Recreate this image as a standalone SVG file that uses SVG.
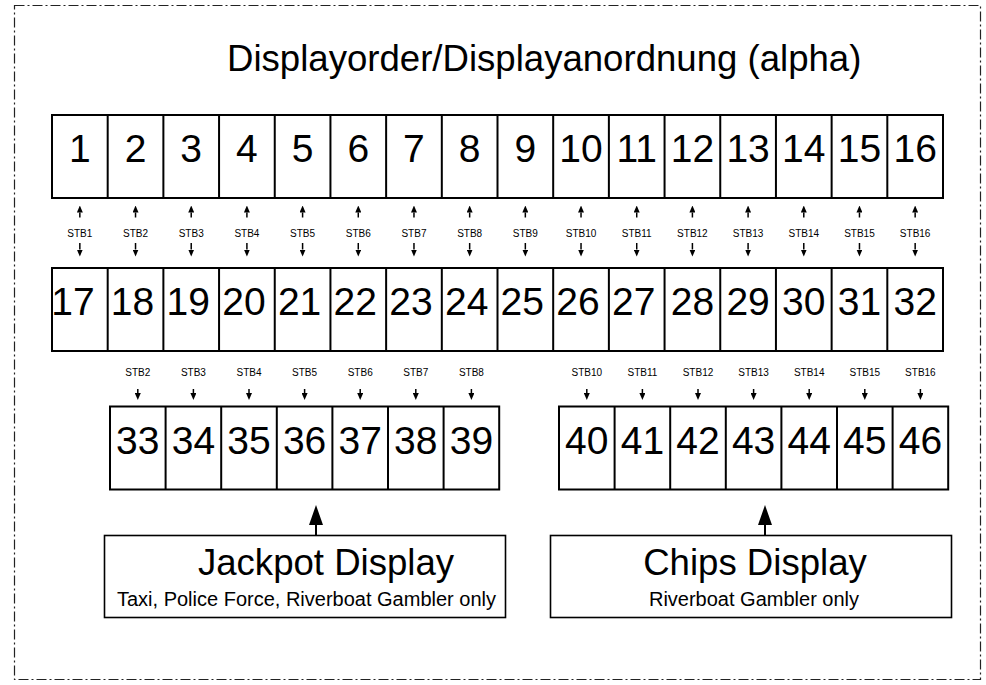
<svg xmlns="http://www.w3.org/2000/svg" width="986" height="685" viewBox="0 0 986 685">
<defs>
<style>
.frame{fill:none;stroke:#222;stroke-width:1.2;stroke-dasharray:10 3 2 3}
.box{fill:#fff;stroke:#000;stroke-width:2}
.div{stroke:#000;stroke-width:2}
.dbox{fill:#fff;stroke:#000;stroke-width:1.6}
.num{font-family:"Liberation Sans",Arial,sans-serif;font-size:39px;text-anchor:middle;fill:#000}
.stb{font-family:"Liberation Sans",Arial,sans-serif;font-size:10px;text-anchor:middle;fill:#000}
.title{font-family:"Liberation Sans",Arial,sans-serif;font-size:36.6px;fill:#000}
.dt{font-family:"Liberation Sans",Arial,sans-serif;font-size:36.6px;text-anchor:middle;fill:#000}
.ds{font-family:"Liberation Sans",Arial,sans-serif;font-size:20px;text-anchor:middle;fill:#000}
.sa{stroke:#000;stroke-width:1.5;fill:none;marker-end:url(#sh)}
.ba{stroke:#000;stroke-width:2;fill:none;marker-end:url(#bh)}
</style>
<marker id="sh" viewBox="0 0 7 6" refX="0" refY="3" markerWidth="7" markerHeight="6" markerUnits="userSpaceOnUse" orient="auto">
<path d="M0,0 L7,3 L0,6 z" fill="#000"/>
</marker>
<marker id="bh" viewBox="0 0 20 14" refX="0" refY="7" markerWidth="20" markerHeight="14" markerUnits="userSpaceOnUse" orient="auto">
<path d="M0,0 L20,7 L0,14 z" fill="#000"/>
</marker>
</defs>
<rect width="986" height="685" fill="#fff"/>
<rect class="frame" x="14.5" y="5.5" width="966" height="674"/>
<text class="title" x="227" y="71">Displayorder/Displayanordnung (alpha)</text>

<g id="row1">
<rect class="box" x="52" y="115" width="891" height="83"/>
<path class="div" d="M107.69,115V198M163.38,115V198M219.06,115V198M274.75,115V198M330.44,115V198M386.13,115V198M441.81,115V198M497.5,115V198M553.19,115V198M608.88,115V198M664.56,115V198M720.25,115V198M775.94,115V198M831.63,115V198M887.31,115V198"/>
<text class="num" x="79.84" y="162.3">1</text>
<text class="num" x="135.53" y="162.3">2</text>
<text class="num" x="191.22" y="162.3">3</text>
<text class="num" x="246.91" y="162.3">4</text>
<text class="num" x="302.59" y="162.3">5</text>
<text class="num" x="358.28" y="162.3">6</text>
<text class="num" x="413.97" y="162.3">7</text>
<text class="num" x="469.66" y="162.3">8</text>
<text class="num" x="525.34" y="162.3">9</text>
<text class="num" x="581.03" y="162.3">10</text>
<text class="num" x="636.72" y="162.3">11</text>
<text class="num" x="692.41" y="162.3">12</text>
<text class="num" x="748.09" y="162.3">13</text>
<text class="num" x="803.78" y="162.3">14</text>
<text class="num" x="859.47" y="162.3">15</text>
<text class="num" x="915.16" y="162.3">16</text>
</g>

<g id="row2">
<rect class="box" x="52" y="268" width="891" height="83"/>
<path class="div" d="M107.69,268V351M163.38,268V351M219.06,268V351M274.75,268V351M330.44,268V351M386.13,268V351M441.81,268V351M497.5,268V351M553.19,268V351M608.88,268V351M664.56,268V351M720.25,268V351M775.94,268V351M831.63,268V351M887.31,268V351"/>
<text class="num" x="73" y="315.3">17</text>
<text class="num" x="132.5" y="315.3">18</text>
<text class="num" x="188.2" y="315.3">19</text>
<text class="num" x="243.9" y="315.3">20</text>
<text class="num" x="299.6" y="315.3">21</text>
<text class="num" x="355.3" y="315.3">22</text>
<text class="num" x="411" y="315.3">23</text>
<text class="num" x="466.7" y="315.3">24</text>
<text class="num" x="522.3" y="315.3">25</text>
<text class="num" x="578" y="315.3">26</text>
<text class="num" x="633.7" y="315.3">27</text>
<text class="num" x="692.41" y="315.3">28</text>
<text class="num" x="748.09" y="315.3">29</text>
<text class="num" x="803.78" y="315.3">30</text>
<text class="num" x="859.47" y="315.3">31</text>
<text class="num" x="915.16" y="315.3">32</text>
</g>

<g id="row3-left">
<rect class="box" x="110" y="406.5" width="389.2" height="83"/>
<path class="div" d="M165.6,406.5V489.5M221.2,406.5V489.5M276.8,406.5V489.5M332.4,406.5V489.5M388,406.5V489.5M443.6,406.5V489.5"/>
<text class="num" x="137.8" y="453.8">33</text>
<text class="num" x="193.4" y="453.8">34</text>
<text class="num" x="249" y="453.8">35</text>
<text class="num" x="304.6" y="453.8">36</text>
<text class="num" x="360.2" y="453.8">37</text>
<text class="num" x="415.8" y="453.8">38</text>
<text class="num" x="471.4" y="453.8">39</text>
</g>

<g id="row3-right">
<rect class="box" x="559" y="406.5" width="389.2" height="83"/>
<path class="div" d="M614.6,406.5V489.5M670.2,406.5V489.5M725.8,406.5V489.5M781.4,406.5V489.5M837,406.5V489.5M892.6,406.5V489.5"/>
<text class="num" x="586.8" y="453.8">40</text>
<text class="num" x="642.4" y="453.8">41</text>
<text class="num" x="698" y="453.8">42</text>
<text class="num" x="753.6" y="453.8">43</text>
<text class="num" x="809.2" y="453.8">44</text>
<text class="num" x="864.8" y="453.8">45</text>
<text class="num" x="920.4" y="453.8">46</text>
</g>

<g id="jackpot">
<rect class="dbox" x="104.5" y="535.5" width="401" height="82"/>
<text class="dt" x="326" y="575">Jackpot Display</text>
<text class="ds" x="306.5" y="606">Taxi, Police Force, Riverboat Gambler only</text>
</g>

<g id="chips">
<rect class="dbox" x="550.5" y="535.5" width="401" height="82"/>
<text class="dt" x="755" y="575">Chips Display</text>
<text class="ds" x="754" y="606">Riverboat Gambler only</text>
</g>

<g id="stb-labels">
<text class="stb" x="79.84" y="237">STB1</text>
<text class="stb" x="135.53" y="237">STB2</text>
<text class="stb" x="191.22" y="237">STB3</text>
<text class="stb" x="246.91" y="237">STB4</text>
<text class="stb" x="302.59" y="237">STB5</text>
<text class="stb" x="358.28" y="237">STB6</text>
<text class="stb" x="413.97" y="237">STB7</text>
<text class="stb" x="469.66" y="237">STB8</text>
<text class="stb" x="525.34" y="237">STB9</text>
<text class="stb" x="581.03" y="237">STB10</text>
<text class="stb" x="636.72" y="237">STB11</text>
<text class="stb" x="692.41" y="237">STB12</text>
<text class="stb" x="748.09" y="237">STB13</text>
<text class="stb" x="803.78" y="237">STB14</text>
<text class="stb" x="859.47" y="237">STB15</text>
<text class="stb" x="915.16" y="237">STB16</text>
<text class="stb" x="137.8" y="375.5">STB2</text>
<text class="stb" x="193.4" y="375.5">STB3</text>
<text class="stb" x="249" y="375.5">STB4</text>
<text class="stb" x="304.6" y="375.5">STB5</text>
<text class="stb" x="360.2" y="375.5">STB6</text>
<text class="stb" x="415.8" y="375.5">STB7</text>
<text class="stb" x="471.4" y="375.5">STB8</text>
<text class="stb" x="586.8" y="375.5">STB10</text>
<text class="stb" x="642.4" y="375.5">STB11</text>
<text class="stb" x="698" y="375.5">STB12</text>
<text class="stb" x="753.6" y="375.5">STB13</text>
<text class="stb" x="809.2" y="375.5">STB14</text>
<text class="stb" x="864.8" y="375.5">STB15</text>
<text class="stb" x="920.4" y="375.5">STB16</text>
</g>

<g id="connectors">
<path class="sa" d="M79.84,217.5V212.5"/><path class="sa" d="M79.84,243V249.5"/>
<path class="sa" d="M135.53,217.5V212.5"/><path class="sa" d="M135.53,243V249.5"/>
<path class="sa" d="M191.22,217.5V212.5"/><path class="sa" d="M191.22,243V249.5"/>
<path class="sa" d="M246.91,217.5V212.5"/><path class="sa" d="M246.91,243V249.5"/>
<path class="sa" d="M302.59,217.5V212.5"/><path class="sa" d="M302.59,243V249.5"/>
<path class="sa" d="M358.28,217.5V212.5"/><path class="sa" d="M358.28,243V249.5"/>
<path class="sa" d="M413.97,217.5V212.5"/><path class="sa" d="M413.97,243V249.5"/>
<path class="sa" d="M469.66,217.5V212.5"/><path class="sa" d="M469.66,243V249.5"/>
<path class="sa" d="M525.34,217.5V212.5"/><path class="sa" d="M525.34,243V249.5"/>
<path class="sa" d="M581.03,217.5V212.5"/><path class="sa" d="M581.03,243V249.5"/>
<path class="sa" d="M636.72,217.5V212.5"/><path class="sa" d="M636.72,243V249.5"/>
<path class="sa" d="M692.41,217.5V212.5"/><path class="sa" d="M692.41,243V249.5"/>
<path class="sa" d="M748.09,217.5V212.5"/><path class="sa" d="M748.09,243V249.5"/>
<path class="sa" d="M803.78,217.5V212.5"/><path class="sa" d="M803.78,243V249.5"/>
<path class="sa" d="M859.47,217.5V212.5"/><path class="sa" d="M859.47,243V249.5"/>
<path class="sa" d="M915.16,217.5V212.5"/><path class="sa" d="M915.16,243V249.5"/>
<path class="sa" d="M137.8,389V393"/>
<path class="sa" d="M193.4,389V393"/>
<path class="sa" d="M249,389V393"/>
<path class="sa" d="M304.6,389V393"/>
<path class="sa" d="M360.2,389V393"/>
<path class="sa" d="M415.8,389V393"/>
<path class="sa" d="M471.4,389V393"/>
<path class="sa" d="M586.8,389V393"/>
<path class="sa" d="M642.4,389V393"/>
<path class="sa" d="M698,389V393"/>
<path class="sa" d="M753.6,389V393"/>
<path class="sa" d="M809.2,389V393"/>
<path class="sa" d="M864.8,389V393"/>
<path class="sa" d="M920.4,389V393"/>
<path class="ba" d="M316,535V525"/>
<path class="ba" d="M765,535V525"/>
</g>
</svg>
